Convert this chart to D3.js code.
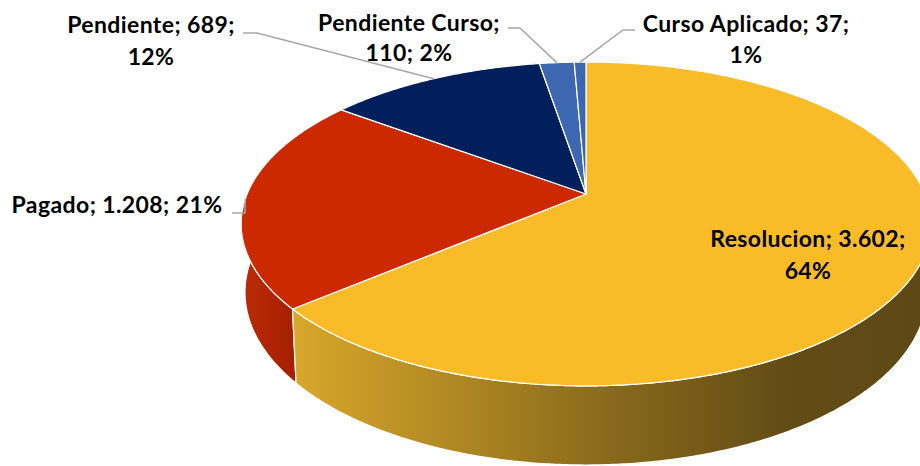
<!DOCTYPE html>
<html><head><meta charset="utf-8">
<script src="https://cdn.jsdelivr.net/npm/d3@7"></script>
<style>html,body{margin:0;padding:0;background:#fff;} svg{display:block;}</style>
</head><body>
<svg id="chart" width="920" height="466"></svg>
<script>
// ---- data ----
const categories = ["Resolucion", "Pagado", "Pendiente", "Pendiente Curso", "Curso Aplicado"];
const values = [3602, 1208, 689, 110, 37];
const topColors = ["#F9BC28", "#CD2900", "#001F5B", "#3E67B1", "#3E67B1"];
const wallStops = [
  [["0%", "#D8A72B"], ["48%", "#8C6C1C"], ["78%", "#634C16"], ["100%", "#5E4814"]],
  [["0%", "#BC2C08"], ["100%", "#A21E00"]],
  [["0%", "#001A4E"], ["100%", "#001540"]],
  [["0%", "#34589A"], ["100%", "#2E4F8C"]],
  [["0%", "#34589A"], ["100%", "#2E4F8C"]]
];

// ---- layout (label placement, not data) ----
const labelLayout = [
  { x: 808, y: [247, 279], breakAfter: 2, knee: null },
  { x: 117, y: [213], breakAfter: 3, knee: [[232, 213], [245, 213]] },
  { x: 151, y: [33, 65], breakAfter: 2, knee: [[243, 33], [257, 33]] },
  { x: 409, y: [31, 61], breakAfter: 1, knee: [[508, 28], [520, 28]] },
  { x: 746, y: [32, 63], breakAfter: 2, knee: [[635, 30], [623, 30]] }
];

// ---- 3D perspective projection ----
const cx = 586, cy = 194, focal = 1625, dist = 4.795;
const sinA = 0.4614, cosA = Math.sqrt(1 - sinA * sinA), depth = 0.2242, zShrink = 0.2307;
function project(u, v, z) {
  const Yc = v * sinA - z * cosA;
  const Zc = dist - v * cosA - z * zShrink;
  return [cx + focal * u / Zc, cy + focal * Yc / Zc];
}
function rim(theta, z) { return project(Math.sin(theta), -Math.cos(theta), z); }
function arcPts(a0, a1, z) {
  const n = Math.max(2, Math.ceil(Math.abs(a1 - a0) / (Math.PI / 360)));
  return d3.range(n + 1).map(i => rim(a0 + (a1 - a0) * i / n, z));
}

const total = d3.sum(values);
const pie = d3.pie().sort(null).startAngle(0).endAngle(2 * Math.PI);
const arcs = pie(values);
const locale = d3.formatLocale({ decimal: ",", thousands: ".", grouping: [3], currency: ["", ""] });
const fmtVal = locale.format(",");
const fmtPct = d3.format(".0%");

const svg = d3.select("#chart");
const defs = svg.append("defs");
wallStops.forEach((stops, i) => {
  const g = defs.append("linearGradient").attr("id", "wall" + i)
    .attr("gradientUnits", "userSpaceOnUse")
    .attr("x1", i === 0 ? 295 : 240).attr("x2", i === 0 ? 920 : 300).attr("y1", 0).attr("y2", 0);
  stops.forEach(s => g.append("stop").attr("offset", s[0]).attr("stop-color", s[1]));
});

const line = d3.line();
// walls (far first)
const wallOrder = arcs.map((a, i) => ({ a, i }))
  .sort((p, q) => -Math.cos((p.a.startAngle + p.a.endAngle) / 2) - -Math.cos((q.a.startAngle + q.a.endAngle) / 2));
svg.append("g").selectAll("path").data(wallOrder).join("path")
  .attr("d", d => {
    const top = arcPts(d.a.startAngle, d.a.endAngle, 0);
    const bot = arcPts(d.a.endAngle, d.a.startAngle, -depth);
    return line(top.concat(bot)) + "Z";
  })
  .attr("fill", d => `url(#wall${d.i})`)
  .attr("stroke", "#ffffff").attr("stroke-width", 1.2).attr("stroke-linejoin", "round");

// top faces
svg.append("g").selectAll("path").data(arcs).join("path")
  .attr("d", a => line([project(0, 0, 0)].concat(arcPts(a.startAngle, a.endAngle, 0))) + "Z")
  .attr("fill", (a, i) => topColors[i])
  .attr("stroke", "#ffffff").attr("stroke-width", 1.2).attr("stroke-linejoin", "round");

// leader lines
svg.append("g").selectAll("path").data(arcs.filter((a, i) => labelLayout[i].knee)).join("path")
  .attr("d", a => {
    const L = labelLayout[a.index];
    const p = rim((a.startAngle + a.endAngle) / 2, 0);
    return line([L.knee[0], L.knee[1], p]);
  })
  .attr("fill", "none").attr("stroke", "#A6A6A6").attr("stroke-width", 1.5);

// labels
const labels = svg.append("g").attr("font-family", "Lato, 'Open Sans', sans-serif")
  .attr("font-weight", "bold").attr("font-size", 23).attr("letter-spacing", 0.4)
  .attr("fill", "#000").attr("text-anchor", "middle");
arcs.forEach((a, i) => {
  const L = labelLayout[i];
  const parts = [categories[i], fmtVal(values[i]), fmtPct(values[i] / total)];
  const l1 = parts.slice(0, L.breakAfter).join("; ") + (L.breakAfter < 3 ? ";" : "");
  const l2 = parts.slice(L.breakAfter).join("; ");
  const t = labels.append("text");
  t.append("tspan").attr("x", L.x).attr("y", L.y[0]).text(l1);
  if (l2) t.append("tspan").attr("x", L.x).attr("y", L.y[1]).text(l2);
});
</script>
</body></html>
